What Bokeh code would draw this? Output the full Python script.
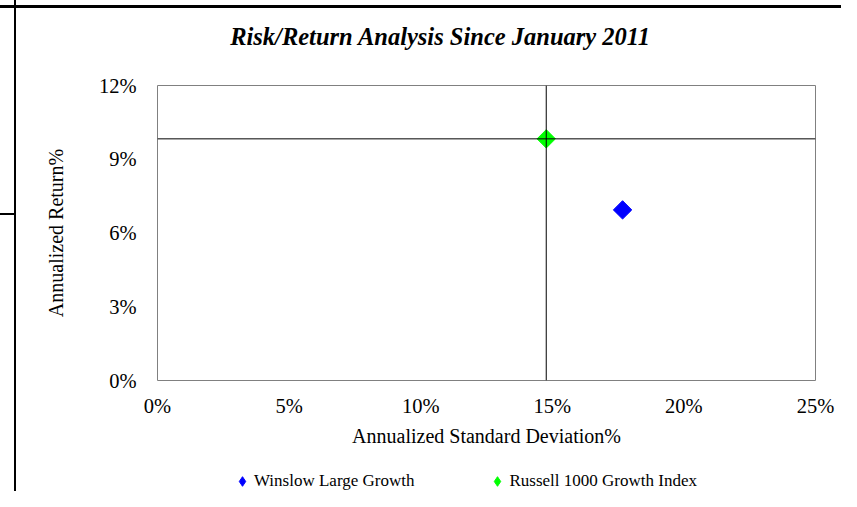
from bokeh.plotting import figure
from bokeh.layouts import column
from bokeh.models import (ColumnDataSource, Span, Legend, LegendItem, Label,
                          FixedTicker, CustomJSTickFormatter, InlineStyleSheet)
from bokeh.embed import file_html
from bokeh.resources import INLINE
import math

# Data
title_text = "Risk/Return Analysis Since January 2011"
series_names = ["Winslow Large Growth", "Russell 1000 Growth Index"]
std_dev = [17.67, 14.77]      # annualized standard deviation, %
returns = [6.94, 9.83]        # annualized return, %
colors = ["#0000FF", "#00FF00"]
x_ticks = [0, 5, 10, 15, 20, 25]
y_ticks = [0, 3, 6, 9, 12]
benchmark_index = 1

FONT = "Liberation Serif"


def strip(height):
    f = figure(width=841, height=height, output_backend="svg",
               toolbar_location=None, x_range=(0, 1), y_range=(0, 1),
               min_border=0)
    f.axis.visible = False
    f.xgrid.visible = False
    f.ygrid.visible = False
    f.outline_line_color = None
    f.background_fill_color = "white"
    f.border_fill_color = "white"
    return f


# title strip
tf = strip(60)
tf.add_layout(Label(x=283, y=24, x_units="screen", y_units="screen",
                    text=title_text, text_align="center",
                    text_baseline="middle", text_font=FONT,
                    text_font_size="24.5px", text_font_style="bold italic",
                    text_color="black"))

# main chart
p = figure(width=841, height=396, output_backend="svg",
           toolbar_location=None, x_range=(0, 25), y_range=(0, 12),
           min_border_left=157, min_border_right=26, min_border_top=25,
           min_border_bottom=76, title=None)

p.xgrid.visible = False
p.ygrid.visible = False
p.outline_line_color = "#808080"
p.outline_line_width = 1
p.background_fill_color = "white"
p.border_fill_color = "white"

for ax in (p.xaxis[0], p.yaxis[0]):
    ax.axis_line_color = None
    ax.major_tick_line_color = None
    ax.minor_tick_line_color = None
    ax.major_tick_out = 0
    ax.major_tick_in = 0
    ax.major_label_text_font = FONT
    ax.major_label_text_font_size = "20.5px"
    ax.major_label_text_color = "black"
    ax.axis_label_text_font = FONT
    ax.axis_label_text_font_size = "20px"
    ax.axis_label_text_font_style = "normal"
    ax.axis_label_text_color = "black"
    ax.formatter = CustomJSTickFormatter(code="return tick.toFixed(0) + '%';")

p.xaxis.ticker = FixedTicker(ticks=x_ticks)
p.yaxis.ticker = FixedTicker(ticks=y_ticks)
p.xaxis.axis_label = "Annualized Standard Deviation%"
p.yaxis.axis_label = "Annualized Return%"
p.xaxis.major_label_standoff = 14
p.xaxis.axis_label_standoff = 5
p.yaxis.major_label_standoff = 21
p.yaxis.axis_label_standoff = 29

# crosshair through the benchmark point
p.add_layout(Span(location=std_dev[benchmark_index], dimension="height",
                  line_color="black", line_width=1))
p.add_layout(Span(location=returns[benchmark_index], dimension="width",
                  line_color="black", line_width=1))

for i, name in enumerate(series_names):
    src = ColumnDataSource(dict(x=[std_dev[i]], y=[returns[i]]))
    p.scatter("x", "y", source=src, marker="square", angle=math.pi / 4,
              size=13, fill_color=colors[i], line_color=colors[i])

# legend strip below the chart
lf = strip(35)
items = []
for i, name in enumerate(series_names):
    src = ColumnDataSource(dict(x=[std_dev[i]], y=[returns[i]]))
    r = lf.scatter("x", "y", source=src, marker="diamond", size=10,
                   fill_color=colors[i], line_color=colors[i], visible=False)
    items.append(LegendItem(label=name, renderers=[r]))

legend = Legend(items=items, orientation="horizontal", location=(73, -2),
                label_text_font=FONT, label_text_font_size="17px",
                label_text_color="black", label_standoff=0,
                glyph_width=24, glyph_height=24, spacing=71, padding=0,
                margin=0, border_line_color=None, background_fill_alpha=0,
                inactive_fill_alpha=0)
lf.add_layout(legend, "center")

layout = column(tf, p, lf, spacing=0)

# page border lines around the chart (from the source document)
layout.stylesheets = [InlineStyleSheet(css="""
:host { position: relative; }
:host::after {
  content: ""; position: absolute; left: 0; top: 0; width: 100%; height: 100%;
  pointer-events: none; z-index: 10;
  background-image: linear-gradient(#000,#000), linear-gradient(#000,#000), linear-gradient(#000,#000);
  background-repeat: no-repeat;
  background-size: 100% 3px, 2px 100%, 15px 2px;
  background-position: 0 5px, 14px 0, 0 213px;
}
""")]

open("out.html", "w").write(file_html(layout, INLINE))
